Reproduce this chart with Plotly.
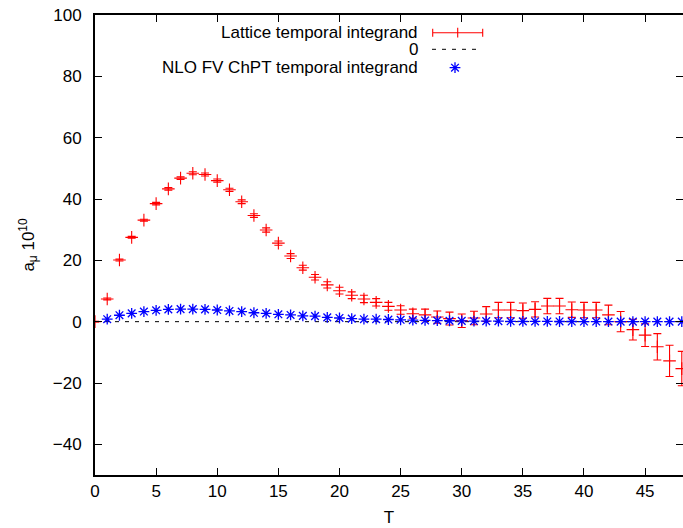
import plotly.graph_objects as go

# ---- data ----
T_lat = list(range(0, 49))
lat_val = [0.0, 7.4, 20.1, 27.5, 33.1, 38.5, 43.3, 46.8, 48.4, 48.0,
           46.0, 43.0, 39.1, 34.6, 29.9, 25.6, 21.4, 17.6, 14.5, 12.0,
           10.1, 8.6, 7.4, 6.3, 5.0, 3.8, 2.6, 2.2, 1.5, 1.0,
           0.3, 1.2, 2.5, 3.8, 3.8, 3.6, 4.0, 5.1, 5.1, 3.9,
           3.8, 3.8, 2.2, 0.0, -2.6, -4.4, -8.2, -12.8, -15.3]
lat_err = [0.1, 0.3, 0.3, 0.3, 0.3, 0.4, 0.4, 0.4, 0.5, 0.5,
           0.5, 0.5, 0.6, 0.6, 0.7, 0.7, 0.8, 0.8, 0.9, 1.0,
           1.1, 1.1, 1.2, 1.2, 1.3, 1.4, 1.5, 1.9, 2.0, 2.1,
           2.2, 2.2, 2.4, 2.5, 2.5, 2.5, 2.5, 2.5, 2.5, 2.5,
           2.5, 2.5, 3.2, 3.3, 3.4, 3.7, 4.3, 5.1, 5.6]

T_nlo = list(range(1, 49))
nlo_val = [0.8, 2.1, 2.7, 3.3, 3.7, 4.0, 4.1, 4.1, 4.0, 3.8,
           3.5, 3.3, 2.9, 2.7, 2.4, 2.2, 1.9, 1.8, 1.4, 1.2,
           1.0, 0.8, 0.8, 0.7, 0.6, 0.5, 0.4, 0.35, 0.3, 0.25,
           0.2, 0.18, 0.15, 0.12, 0.1, 0.08, 0.07, 0.06, 0.05, 0.04,
           0.03, 0.03, 0.02, 0.02, 0.01, 0.01, 0.01, 0.01]

zero_x = [0, 48.1]
zero_y = [0, 0]

x_ticks = [0, 5, 10, 15, 20, 25, 30, 35, 40, 45]
y_ticks = [-40, -20, 0, 20, 40, 60, 80, 100]

legend_labels = ["Lattice temporal integrand", "0", "NLO FV ChPT temporal integrand"]

RED = "#ff0000"
BLUE = "#0000ff"
FONT = "Liberation Sans, Arial, Helvetica, sans-serif"

fig = go.Figure()

fig.add_trace(go.Scatter(
    x=zero_x, y=zero_y, mode="lines",
    line=dict(color="black", width=1, dash="4px,6px"),
    showlegend=False, hoverinfo="skip"))

fig.add_trace(go.Scatter(
    x=T_lat, y=lat_val, mode="markers",
    marker=dict(symbol="cross-thin", size=9, line=dict(color=RED, width=1.1), color=RED),
    error_y=dict(type="data", array=lat_err, visible=True, color=RED, thickness=1.1, width=4),
    showlegend=False))

fig.add_trace(go.Scatter(
    x=T_nlo, y=nlo_val, mode="markers",
    marker=dict(symbol="asterisk-open", size=9, line=dict(color=BLUE, width=1.3), color=BLUE),
    showlegend=False))

# ---- legend samples on an auxiliary pixel-like axis ----
fig.add_trace(go.Scatter(
    x=[457.7], y=[32.7], mode="markers", xaxis="x2", yaxis="y2",
    marker=dict(symbol="line-ns", size=7, color=RED, line=dict(color=RED, width=1.1)),
    error_x=dict(type="constant", value=25, visible=True, color=RED, thickness=1.1, width=4),
    showlegend=False, hoverinfo="skip"))
fig.add_trace(go.Scatter(
    x=[432, 482], y=[49.3, 49.3], mode="lines", xaxis="x2", yaxis="y2",
    line=dict(color="black", width=1, dash="4px,6px"),
    showlegend=False, hoverinfo="skip"))
fig.add_trace(go.Scatter(
    x=[455], y=[67.7], mode="markers", xaxis="x2", yaxis="y2",
    marker=dict(symbol="asterisk-open", size=9, color=BLUE, line=dict(color=BLUE, width=1.3)),
    showlegend=False, hoverinfo="skip"))

ann = []
for lab, yy in zip(legend_labels, [32.7, 49.3, 67.7]):
    ann.append(dict(x=420, y=yy, xref="x2", yref="y2", text=lab, showarrow=False,
                    xanchor="right", yanchor="middle",
                    font=dict(family=FONT, size=17, color="black")))

fig.update_layout(
    width=683, height=528,
    margin=dict(l=95, r=0, t=15, b=53, autoexpand=False),
    paper_bgcolor="white", plot_bgcolor="white",
    font=dict(family=FONT, size=17, color="black"),
    annotations=ann,
    xaxis=dict(range=[0, 48.1], tickvals=x_ticks, ticks="inside", ticklen=7,
               tickwidth=1, tickcolor="black", showline=True, linecolor="black",
               linewidth=2, mirror="ticks", showgrid=False, zeroline=False,
               automargin=False, ticklabeloverflow="allow",
               title=dict(text="T", font=dict(size=17), standoff=11),
               tickfont=dict(size=17)),
    yaxis=dict(range=[-50, 100], tickvals=y_ticks, ticks="inside", ticklen=7,
               tickwidth=1, tickcolor="black", showline=True, linecolor="black",
               linewidth=2, mirror="ticks", showgrid=False, zeroline=False,
               automargin=False, ticklabelstandoff=8, ticklabeloverflow="allow",
               title=dict(text="a<sub>μ</sub> 10<sup>10</sup>", font=dict(size=17), standoff=14),
               tickfont=dict(size=17)),
    xaxis2=dict(range=[95, 683], overlaying="x", visible=False, showgrid=False,
                zeroline=False, fixedrange=True),
    yaxis2=dict(range=[475, 15], overlaying="y", visible=False, showgrid=False,
                zeroline=False, fixedrange=True),
)

fig.write_html(
    "out.html",
    config={"displayModeBar": False},
    post_script="document.body.style.margin='0';document.body.style.overflow='hidden';",
)
